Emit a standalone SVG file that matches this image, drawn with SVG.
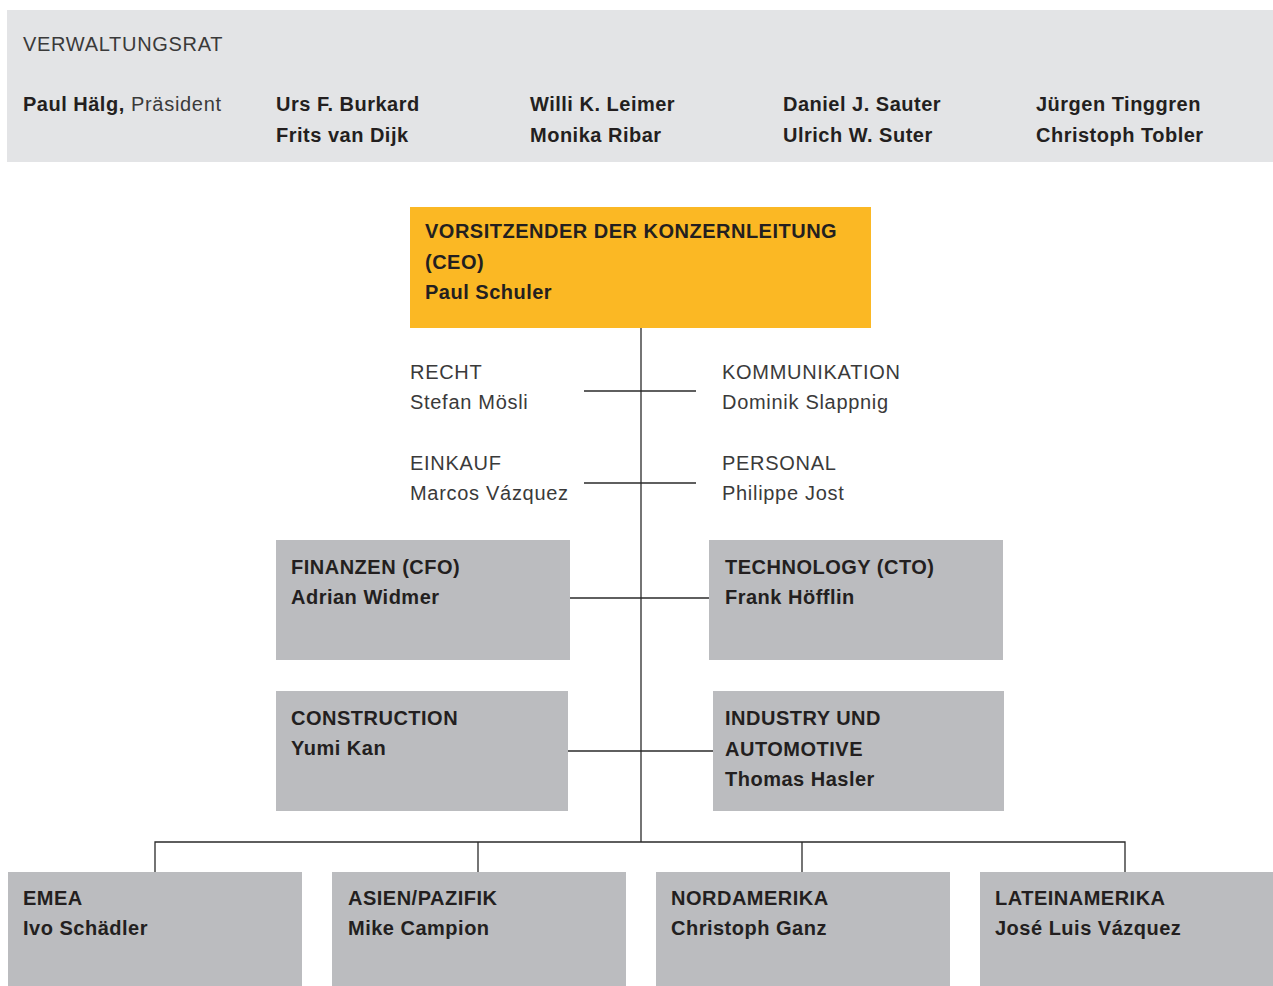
<svg xmlns="http://www.w3.org/2000/svg" width="1273" height="986" viewBox="0 0 1273 986">
<style>
.b{font-family:"Liberation Sans",Arial,sans-serif;font-weight:bold;font-size:20px;letter-spacing:0.5px;fill:#231f20}
.l{font-family:"Liberation Sans",Arial,sans-serif;font-size:20px;letter-spacing:0.7px;fill:#3a3a3a}
.box{fill:#bbbcbf}
.ln{stroke:#2a2a2a;stroke-width:1.3;fill:none}
</style>
<rect width="1273" height="986" fill="#ffffff"/>
<g id="verwaltungsrat">
<rect x="7" y="10" width="1266" height="152" fill="#e3e4e6"/>
<text class="l" x="23" y="51">VERWALTUNGSRAT</text>
<text x="23" y="111"><tspan class="b">Paul Hälg,</tspan><tspan class="l"> Präsident</tspan></text>
<text class="b" x="276" y="111">Urs F. Burkard</text>
<text class="b" x="276" y="142">Frits van Dijk</text>
<text class="b" x="530" y="111">Willi K. Leimer</text>
<text class="b" x="530" y="142">Monika Ribar</text>
<text class="b" x="783" y="111">Daniel J. Sauter</text>
<text class="b" x="783" y="142">Ulrich W. Suter</text>
<text class="b" x="1036" y="111">Jürgen Tinggren</text>
<text class="b" x="1036" y="142">Christoph Tobler</text>
</g>
<g id="connectors">
<line class="ln" x1="641" y1="328" x2="641" y2="842"/>
<line class="ln" x1="584" y1="391" x2="696" y2="391"/>
<line class="ln" x1="584" y1="483" x2="696" y2="483"/>
<line class="ln" x1="570" y1="598" x2="709" y2="598"/>
<line class="ln" x1="568" y1="751" x2="713" y2="751"/>
<polyline class="ln" points="155,872 155,842 1125,842 1125,872"/>
<line class="ln" x1="478" y1="842" x2="478" y2="872"/>
<line class="ln" x1="802" y1="842" x2="802" y2="872"/>
</g>
<g id="ceo">
<rect x="410" y="207" width="461" height="121" fill="#fbb824"/>
<text class="b" x="425" y="238">VORSITZENDER DER KONZERNLEITUNG</text>
<text class="b" x="425" y="269">(CEO)</text>
<text class="b" x="425" y="299">Paul Schuler</text>
</g>
<g id="recht">
<text class="l" x="410" y="379">RECHT</text>
<text class="l" x="410" y="409">Stefan Mösli</text>
</g>
<g id="kommunikation">
<text class="l" x="722" y="379">KOMMUNIKATION</text>
<text class="l" x="722" y="409">Dominik Slappnig</text>
</g>
<g id="einkauf">
<text class="l" x="410" y="470">EINKAUF</text>
<text class="l" x="410" y="500">Marcos Vázquez</text>
</g>
<g id="personal">
<text class="l" x="722" y="470">PERSONAL</text>
<text class="l" x="722" y="500">Philippe Jost</text>
</g>
<g id="finanzen">
<rect class="box" x="276" y="540" width="294" height="120"/>
<text class="b" x="291" y="574">FINANZEN (CFO)</text>
<text class="b" x="291" y="604">Adrian Widmer</text>
</g>
<g id="technology">
<rect class="box" x="709" y="540" width="294" height="120"/>
<text class="b" x="725" y="574">TECHNOLOGY (CTO)</text>
<text class="b" x="725" y="604">Frank Höfflin</text>
</g>
<g id="construction">
<rect class="box" x="276" y="691" width="292" height="120"/>
<text class="b" x="291" y="725">CONSTRUCTION</text>
<text class="b" x="291" y="755">Yumi Kan</text>
</g>
<g id="industry">
<rect class="box" x="713" y="691" width="291" height="120"/>
<text class="b" x="725" y="725">INDUSTRY UND</text>
<text class="b" x="725" y="756">AUTOMOTIVE</text>
<text class="b" x="725" y="786">Thomas Hasler</text>
</g>
<g id="emea">
<rect class="box" x="8" y="872" width="294" height="114"/>
<text class="b" x="23" y="905">EMEA</text>
<text class="b" x="23" y="935">Ivo Schädler</text>
</g>
<g id="asien">
<rect class="box" x="332" y="872" width="294" height="114"/>
<text class="b" x="348" y="905">ASIEN/PAZIFIK</text>
<text class="b" x="348" y="935">Mike Campion</text>
</g>
<g id="nordamerika">
<rect class="box" x="656" y="872" width="294" height="114"/>
<text class="b" x="671" y="905">NORDAMERIKA</text>
<text class="b" x="671" y="935">Christoph Ganz</text>
</g>
<g id="lateinamerika">
<rect class="box" x="980" y="872" width="293" height="114"/>
<text class="b" x="995" y="905">LATEINAMERIKA</text>
<text class="b" x="995" y="935">José Luis Vázquez</text>
</g>
</svg>
